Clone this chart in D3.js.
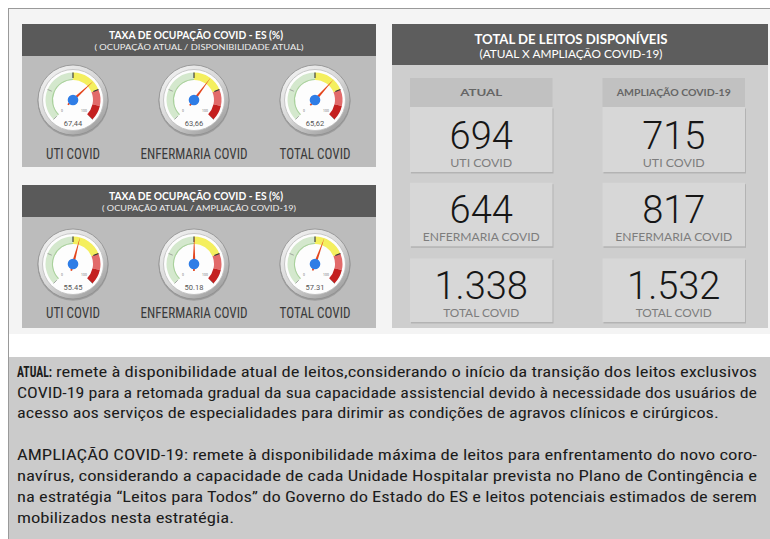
<!DOCTYPE html>
<html>
<head>
<meta charset="utf-8">
<script src="https://cdn.jsdelivr.net/npm/d3@7"></script>
<style>
html, body { margin: 0; padding: 0; background: #fff; }
svg { display: block; }
</style>
</head>
<body>
<svg id="painel" width="770" height="539"></svg>
<script>
// dados
var categorias = ["UTI COVID", "ENFERMARIA COVID", "TOTAL COVID"];
var ocupacaoAtual = [67.44, 63.66, 65.62];        // ocupação atual / disponibilidade atual
var ocupacaoAmpliacao = [55.45, 50.18, 57.31];    // ocupação atual / ampliação covid-19
var leitosAtual = [694, 644, 1338];
var leitosAmpliacao = [715, 817, 1532];
var limitesFaixa = [0, 50, 75, 88, 100];
var marcas = [0, 25, 50, 75, 100];

var textoAtual = [
  "remete à disponibilidade atual de leitos,considerando o início da transição dos leitos exclusivos",
  "COVID-19 para a retomada gradual da sua capacidade assistencial devido à necessidade dos usuários de",
  "acesso aos serviços de especialidades para dirimir as condições de agravos clínicos e cirúrgicos."
];
var textoAmpliacao = [
  "AMPLIAÇÃO COVID-19: remete à disponibilidade máxima de leitos para enfrentamento do novo coro-",
  "navírus, considerando a capacidade de cada Unidade Hospitalar prevista no Plano de Contingência e",
  "na estratégia “Leitos para Todos” do Governo do Estado do ES e leitos potenciais estimados de serem",
  "mobilizados nesta estratégia."
];

var ptBR = d3.formatLocale({decimal: ",", thousands: ".", grouping: [3], currency: ["R$", ""]});
var fmtVirgula = ptBR.format(".2f");
var fmtPonto = d3.format(".2f");
var fmtMilhar = ptBR.format(",d");

var svg = d3.select("#painel");
var narrow = '"Liberation Sans Narrow", "Roboto Condensed", "DejaVu Sans Condensed", sans-serif';

var defs = svg.append("defs");
var grad = defs.append("linearGradient").attr("id", "anel")
  .attr("x1", "0").attr("y1", "0").attr("x2", "0.8").attr("y2", "1");
grad.append("stop").attr("offset", "0%").attr("stop-color", "#f7f7f7");
grad.append("stop").attr("offset", "55%").attr("stop-color", "#d6d6d6");
grad.append("stop").attr("offset", "100%").attr("stop-color", "#9c9c9c");

// fundo
svg.append("rect").attr("x", 8).attr("y", 8).attr("width", 762).attr("height", 326).attr("fill", "#f4f4f4");
svg.append("line").attr("x1", 8).attr("x2", 770).attr("y1", 8.5).attr("y2", 8.5).attr("stroke", "#9a9a9a");
svg.append("rect").attr("x", 8).attr("y", 357).attr("width", 762).attr("height", 182).attr("fill", "#cbcbcb");
svg.append("line").attr("x1", 8.5).attr("x2", 8.5).attr("y1", 8).attr("y2", 539).attr("stroke", "#9a9a9a");

var escala = d3.scaleLinear().domain([0, 100]).range([-135, 135]);
var rad = function(v){ return escala(v) * Math.PI / 180; };
var coresFaixa = ["#d4e8cd", "#f4ef5e", "#e26a6a", "#c42020"];

function gauge(g, valor, rotulo, texto, cx, cy, yRotulo) {
  var gg = g.append("g").attr("transform", "translate(" + cx + "," + cy + ")");
  gg.append("circle").attr("r", 35.5).attr("cy", 1.2).attr("fill", "rgba(0,0,0,0.16)");
  gg.append("circle").attr("r", 35).attr("fill", "url(#anel)").attr("stroke", "#8e8e8e").attr("stroke-width", 0.8);
  gg.append("circle").attr("r", 30.5).attr("fill", "#fdfdfd").attr("stroke", "#bdbdbd").attr("stroke-width", 0.8);

  var arco = d3.arc().innerRadius(20).outerRadius(27.5);
  for (var i = 0; i < limitesFaixa.length - 1; i++) {
    gg.append("path")
      .attr("d", arco({startAngle: rad(limitesFaixa[i]), endAngle: rad(limitesFaixa[i + 1])}))
      .attr("fill", coresFaixa[i]);
  }
  // borda interna verde
  gg.append("path")
    .attr("d", d3.arc().innerRadius(20).outerRadius(21.1)({startAngle: rad(0), endAngle: rad(50)}))
    .attr("fill", "#a9d19c");

  marcas.forEach(function(m){
    var a = rad(m);
    var forte = (m == 50 || m == 75);
    gg.append("line")
      .attr("x1", Math.sin(a) * (forte ? 22 : 23)).attr("y1", -Math.cos(a) * (forte ? 22 : 23))
      .attr("x2", Math.sin(a) * 27.5).attr("y2", -Math.cos(a) * 27.5)
      .attr("stroke", forte ? "#333" : "#8a8a8a").attr("stroke-width", forte ? 1.1 : 0.7);
  });
  [0, 100].forEach(function(m){
    var a = rad(m);
    gg.append("text").attr("x", Math.sin(a) * 15.5).attr("y", -Math.cos(a) * 15.5 + 1.5)
      .attr("text-anchor", "middle").attr("font-size", 3.5).attr("fill", "#777")
      .attr("font-family", "Roboto, sans-serif").text(m);
  });

  gg.append("text").attr("y", 25.5).attr("text-anchor", "middle")
    .attr("font-family", "Roboto, sans-serif").attr("font-size", 7.5).attr("fill", "#555")
    .text(texto);

  var ag = escala(valor);
  gg.append("path")
    .attr("d", "M0,-28 L1.4,0 L0.8,7 L-0.8,7 L-1.4,0 Z")
    .attr("transform", "rotate(" + ag + ")")
    .attr("fill", "#e4461d");
  gg.append("circle").attr("r", 5.3).attr("fill", "#2f7de6");

  g.append("text").attr("class", "rotulo").attr("x", cx).attr("y", yRotulo).attr("text-anchor", "middle")
    .attr("font-family", narrow).attr("font-size", 14).attr("fill", "#3a3a3a")
    .attr("lengthAdjust", "spacingAndGlyphs")
    .text(rotulo);
}

var xGauge = d3.scalePoint().domain(categorias).range([73, 315]);
var larguraRotulo = {"UTI COVID": 54, "ENFERMARIA COVID": 107, "TOTAL COVID": 71};

function painelGauge(y0, titulo, sub, valores, fmt, cy, yRotulo) {
  var g = svg.append("g");
  g.append("rect").attr("x", 22).attr("y", y0).attr("width", 354).attr("height", 32).attr("fill", "#5a5a5a");
  g.append("rect").attr("x", 22).attr("y", y0 + 32).attr("width", 354).attr("height", 111).attr("fill", "#bcbcbc");
  g.append("text").attr("x", 196).attr("y", y0 + 15).attr("text-anchor", "middle")
    .attr("font-family", "Lato, sans-serif").attr("font-weight", "bold").attr("font-size", 10.5)
    .attr("fill", "#fff").attr("textLength", 174).attr("lengthAdjust", "spacingAndGlyphs").text(titulo);
  g.append("text").attr("x", 199).attr("y", y0 + 26).attr("text-anchor", "middle")
    .attr("font-family", "Lato, sans-serif").attr("font-size", 7.5)
    .attr("fill", "#eee").attr("textLength", sub.length * 5.1).attr("lengthAdjust", "spacingAndGlyphs").text(sub);
  categorias.forEach(function(c, i){
    gauge(g, valores[i], c, fmt(valores[i]), xGauge(c), cy, yRotulo);
  });
  g.selectAll("text.rotulo").attr("textLength", function(){ return larguraRotulo[this.textContent]; });
}

painelGauge(24, "TAXA DE OCUPAÇÃO COVID - ES (%)", "( OCUPAÇÃO ATUAL / DISPONIBILIDADE ATUAL)",
  ocupacaoAtual, fmtVirgula, 100, 159);
painelGauge(185, "TAXA DE OCUPAÇÃO COVID - ES (%)", "( OCUPAÇÃO ATUAL / AMPLIAÇÃO COVID-19)",
  ocupacaoAmpliacao, fmtPonto, 264, 318);

// painel direito
var gd = svg.append("g");
gd.append("rect").attr("x", 392).attr("y", 24).attr("width", 376).attr("height", 41).attr("fill", "#5d5d5d");
gd.append("rect").attr("x", 392).attr("y", 65).attr("width", 376).attr("height", 263).attr("fill", "#cecece");
gd.append("text").attr("x", 571).attr("y", 44).attr("text-anchor", "middle")
  .attr("font-family", "Lato, sans-serif").attr("font-weight", "bold").attr("font-size", 13)
  .attr("fill", "#fff").attr("textLength", 193).attr("lengthAdjust", "spacingAndGlyphs")
  .text("TOTAL DE LEITOS DISPONÍVEIS");
gd.append("text").attr("x", 571).attr("y", 58).attr("text-anchor", "middle")
  .attr("font-family", "Lato, sans-serif").attr("font-size", 12)
  .attr("fill", "#fff").attr("textLength", 183).attr("lengthAdjust", "spacingAndGlyphs")
  .text("(ATUAL X AMPLIAÇÃO COVID-19)");

var colunas = ["ATUAL", "AMPLIAÇÃO COVID-19"];
var xCol = d3.scaleBand().domain(colunas).range([410, 745]).paddingInner(0.26);
var yCard = d3.scaleBand().domain(categorias).range([107, 322]).paddingInner(0.16);
var larguraCab = {"ATUAL": 42, "AMPLIAÇÃO COVID-19": 114};
var larguraSub = {"UTI COVID": 62, "ENFERMARIA COVID": 117, "TOTAL COVID": 76};

colunas.forEach(function(col, j){
  var x = xCol(col), w = xCol.bandwidth();
  var valores = j == 0 ? leitosAtual : leitosAmpliacao;
  gd.append("rect").attr("x", x).attr("y", 78).attr("width", w).attr("height", 29).attr("fill", "#c1c1c1");
  gd.append("text").attr("x", x + w / 2).attr("y", 96).attr("text-anchor", "middle")
    .attr("font-family", "Lato, sans-serif").attr("font-size", 10).attr("font-weight", "bold")
    .attr("fill", "#666").attr("textLength", larguraCab[col]).attr("lengthAdjust", "spacingAndGlyphs")
    .text(col);
  categorias.forEach(function(c, i){
    var y = i == 0 ? 107 : yCard(c), h = i == 0 ? 65 : yCard.bandwidth();
    gd.append("rect").attr("x", x + 1).attr("y", y + 1.5).attr("width", w).attr("height", h).attr("fill", "#b3b3b3");
    gd.append("rect").attr("x", x).attr("y", y).attr("width", w).attr("height", h).attr("fill", "#d7d7d7");
    gd.append("text").attr("x", x + w / 2).attr("y", y + h - 23).attr("text-anchor", "middle")
      .attr("font-family", "Roboto, sans-serif").attr("font-weight", 300).attr("font-size", 38)
      .attr("fill", "#161616").text(fmtMilhar(valores[i]));
    gd.append("text").attr("x", x + w / 2).attr("y", y + h - 5).attr("text-anchor", "middle")
      .attr("font-family", "Lato, sans-serif").attr("font-size", 12)
      .attr("fill", "#7d7d7d").attr("textLength", larguraSub[c]).attr("lengthAdjust", "spacingAndGlyphs")
      .text(c);
  });
});

// notas
var fonteNota = '"Liberation Sans Narrow", "Roboto Condensed", "DejaVu Sans Condensed", sans-serif';
var gn = svg.append("g").attr("font-family", fonteNota).attr("font-size", 14.5).attr("fill", "#1c1c1c");
gn.append("text").attr("x", 17).attr("y", 377).attr("font-weight", "bold")
  .attr("textLength", 35).attr("lengthAdjust", "spacingAndGlyphs").text("ATUAL:");

function paragrafo(linhas, inicios, fimCheio, y0, passo) {
  var nos = linhas.map(function(t, i){
    return gn.append("text").attr("x", inicios[i]).attr("y", y0 + i * passo).text(t);
  });
  // fator de ajuste tirado das linhas justificadas
  var fator = 0, n = 0;
  nos.forEach(function(no, i){
    if (i < linhas.length - 1) {
      fator += (fimCheio - inicios[i]) / no.node().getComputedTextLength(); n++;
    }
  });
  fator /= n;
  nos.forEach(function(no, i){
    var comp = i < linhas.length - 1 ? fimCheio - inicios[i] : no.node().getComputedTextLength() * fator;
    no.attr("textLength", comp).attr("lengthAdjust", "spacingAndGlyphs");
  });
}
paragrafo(textoAtual, [56, 17, 17], 757, 377, 20.5);
paragrafo(textoAmpliacao, [17, 17, 17, 17], 757, 460, 21);
</script>
</body>
</html>
